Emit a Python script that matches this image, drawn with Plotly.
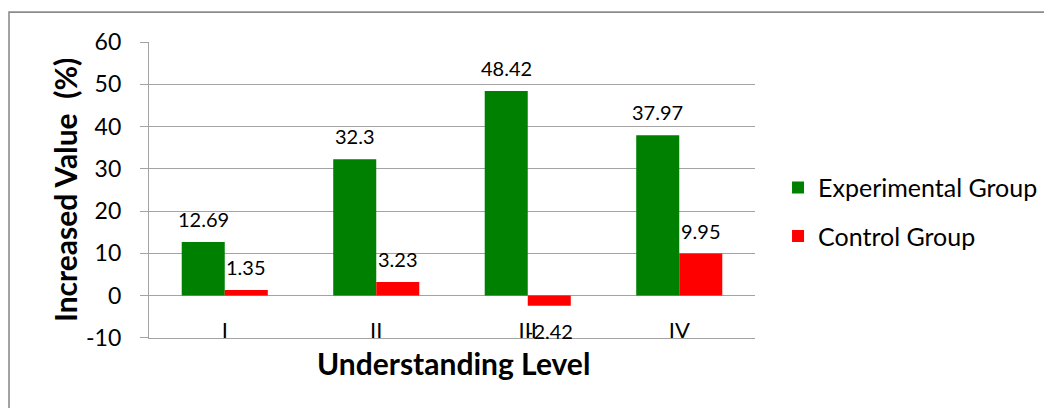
import plotly.graph_objects as go

categories = ["I", "II", "III", "IV"]
experimental = [12.69, 32.3, 48.42, 37.97]
control = [1.35, 3.23, -2.42, 9.95]
y_ticks = [-10, 0, 10, 20, 30, 40, 50, 60]
y_tick_labels = ["-10", "0", "10", "20", "30", "40", "50", "60"]

FONT = "Lato"
GREEN = "#008000"
RED = "#FF0000"
GRID = "#a3a3a3"

fig = go.Figure()
fig.add_trace(go.Bar(x=categories, y=experimental, name="Experimental Group",
                     marker=dict(color=GREEN, line=dict(width=0)),
                     offsetgroup="e", legendgroup="e"))
fig.add_trace(go.Bar(x=categories, y=control, name="Control Group",
                     marker=dict(color=RED, line=dict(width=0)),
                     offsetgroup="c", legendgroup="c"))

# data labels above (or below) each bar
for series, shift in ((experimental, -21.5), (control, 21.5)):
    for c, v in zip(categories, series):
        fig.add_annotation(x=c, y=v, xref="x", yref="y", text=str(v),
                           showarrow=False, xshift=shift,
                           yshift=23 if v >= 0 else -25,
                           font=dict(family=FONT, size=20, color="#000000"))

# axis titles
fig.add_annotation(xref="paper", yref="paper", x=-0.1386, y=0.5,
                   text="<b>Increased Value  (%)</b>", textangle=-90,
                   showarrow=False, xanchor="center", yanchor="middle",
                   font=dict(family=FONT, size=30, color="#000000"))
fig.add_annotation(xref="paper", yref="paper", x=0.5017, y=-0.0845,
                   text="<b>Understanding Level</b>",
                   showarrow=False, xanchor="center", yanchor="middle",
                   font=dict(family=FONT, size=30, color="#000000"))

# outer chart border (top and left visible)
fig.add_shape(type="rect", xref="paper", yref="paper",
              x0=-0.231, x1=1.503, y0=-0.277, y1=1.101,
              line=dict(color="#8c8c8c", width=1.6), layer="below")

fig.update_layout(
    width=1052, height=408,
    margin=dict(l=141, r=305, t=34, b=78),
    paper_bgcolor="white", plot_bgcolor="white",
    bargap=0.432, bargroupgap=0,
    font=dict(family=FONT, color="#000000"),
    legend=dict(x=1.038, y=0.585, xanchor="left", yanchor="top",
                font=dict(family=FONT, size=25), tracegroupgap=13,
                itemwidth=30),
    xaxis=dict(type="category", showgrid=False, ticks="",
               ticklabelstandoff=-28, automargin=False,
               tickfont=dict(family=FONT, size=22),
               showline=True, linecolor=GRID, linewidth=1.3,
               zeroline=False),
    yaxis=dict(range=[-10.03, 60.03], tickvals=y_ticks, ticktext=y_tick_labels,
               automargin=False,
               showgrid=True, gridcolor=GRID, gridwidth=1.3,
               ticks="outside", ticklen=8, tickcolor=GRID, tickwidth=1.3,
               ticklabelstandoff=14,
               tickfont=dict(family=FONT, size=23),
               showline=True, linecolor=GRID, linewidth=1.3,
               zeroline=True, zerolinecolor=GRID, zerolinewidth=1.3),
)

fig.write_html("out.html")
